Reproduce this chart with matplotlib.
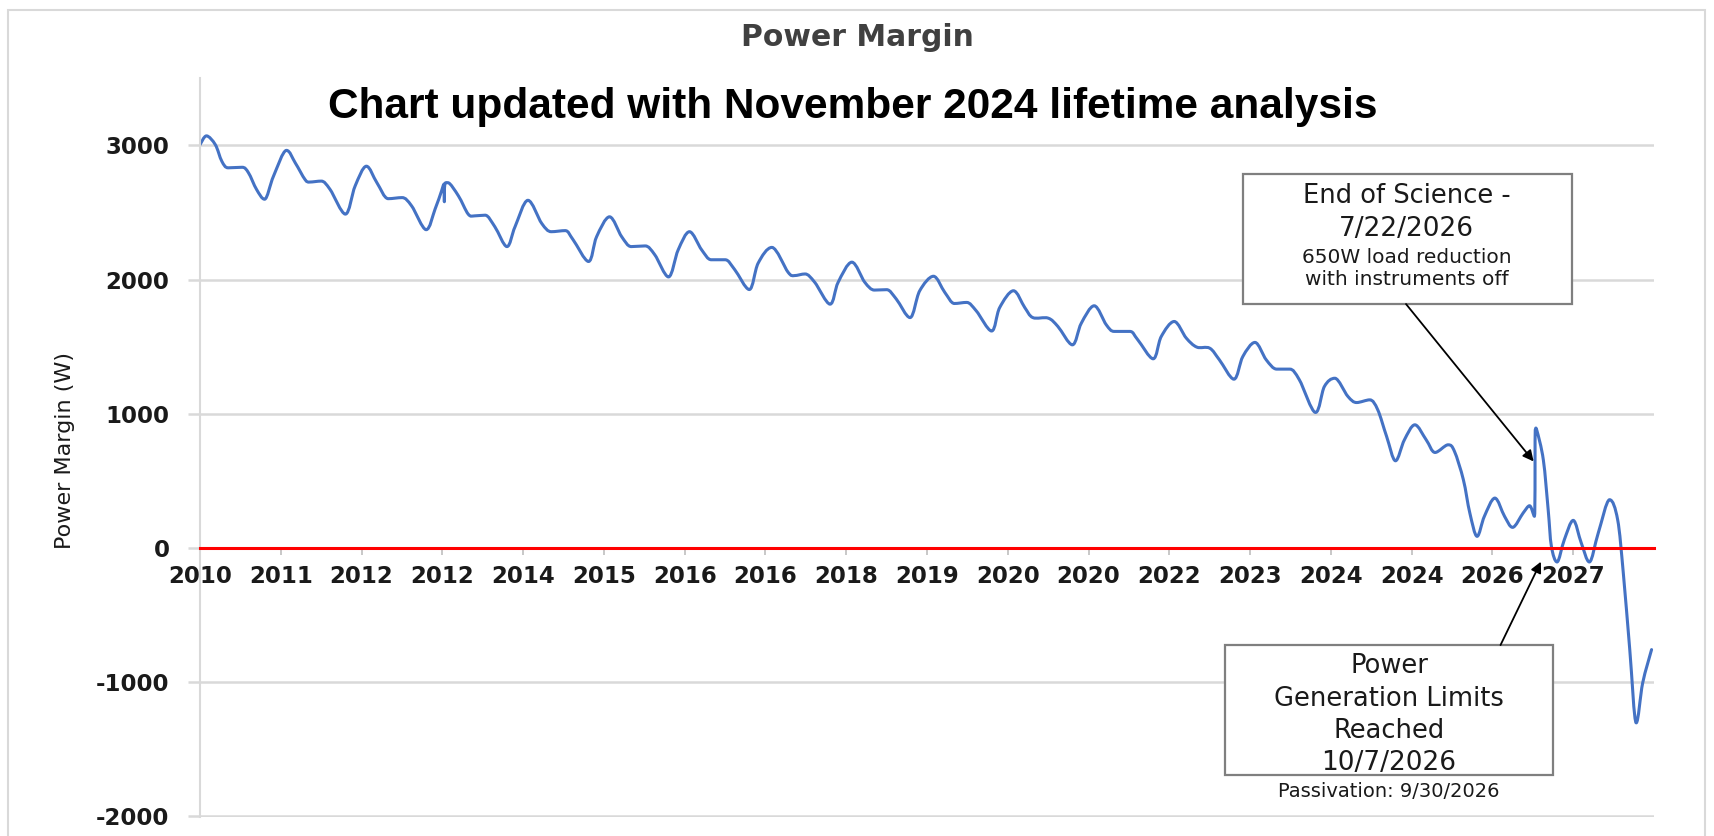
import matplotlib
matplotlib.use("Agg")
import matplotlib.pyplot as plt
from matplotlib.path import Path
from matplotlib.patches import PathPatch, Rectangle
import numpy as np

# ---------------- data ----------------
tick_labels = ['2010', '2011', '2012', '2012', '2014', '2015', '2016', '2016', '2018',
               '2019', '2020', '2020', '2022', '2023', '2024', '2024', '2026', '2027']
y_ticks = [-2000, -1000, 0, 1000, 2000, 3000]
y_tick_labels = ['-2000', '-1000', '0', '1000', '2000', '3000']

# position along the time axis, in label intervals (0 = first "2010" label)
time_pos = [0.00, 0.08, 0.19, 0.27, 0.35, 0.52, 0.60, 0.70, 0.80, 0.91,
            1.07, 1.18, 1.30, 1.36, 1.50, 1.61, 1.80, 1.92,
            2.06, 2.19, 2.33, 2.50, 2.62, 2.80, 2.91,
            2.99, 3.02, 3.025, 3.03, 3.07, 3.20, 3.32, 3.40, 3.53, 3.65, 3.80, 3.90,
            4.06, 4.23, 4.35, 4.52, 4.62, 4.81, 4.91,
            5.07, 5.22, 5.34, 5.51, 5.63, 5.80, 5.92,
            6.06, 6.21, 6.33, 6.50, 6.62, 6.80, 6.91,
            7.08, 7.28, 7.36, 7.49, 7.61, 7.80, 7.90,
            8.07, 8.23, 8.35, 8.50, 8.62, 8.79, 8.91,
            9.08, 9.22, 9.34, 9.49, 9.61, 9.80, 9.90,
            10.07, 10.21, 10.31, 10.50, 10.62, 10.80, 10.91,
            11.07, 11.22, 11.32, 11.51, 11.61, 11.80, 11.90,
            12.06, 12.21, 12.34, 12.50, 12.62, 12.80, 12.91,
            13.06, 13.20, 13.33, 13.49, 13.61, 13.81, 13.92,
            14.05, 14.21, 14.32, 14.48, 14.58, 14.69, 14.80, 14.91,
            15.04, 15.18, 15.29, 15.45, 15.53, 15.64, 15.72, 15.81, 15.90,
            16.03, 16.15, 16.25, 16.38, 16.46, 16.52, 16.53, 16.55, 16.63, 16.69, 16.73, 16.80, 16.89,
            17.00, 17.10, 17.20, 17.31, 17.45, 17.55, 17.62, 17.70, 17.78, 17.86, 17.97]
margin_w = [3005, 3071, 3005, 2882, 2833, 2837, 2796, 2672, 2599, 2771,
            2963, 2869, 2746, 2727, 2734, 2672, 2488, 2697,
            2845, 2722, 2603, 2611, 2549, 2372, 2525,
            2660, 2712, 2580, 2705, 2722, 2623, 2488, 2475, 2480, 2394, 2246, 2394,
            2591, 2419, 2357, 2365, 2296, 2135, 2320,
            2468, 2320, 2246, 2251, 2185, 2020, 2222,
            2357, 2222, 2148, 2148, 2074, 1926, 2123,
            2240, 2055, 2030, 2042, 1980, 1817, 1980,
            2130, 1980, 1922, 1925, 1855, 1717, 1917,
            2025, 1905, 1822, 1830, 1767, 1617, 1792,
            1917, 1792, 1717, 1713, 1651, 1514, 1675,
            1805, 1663, 1614, 1614, 1551, 1410, 1576,
            1688, 1564, 1497, 1489, 1402, 1258, 1427,
            1532, 1402, 1333, 1333, 1253, 1010, 1204,
            1265, 1130, 1084, 1104, 1030, 831, 650, 806,
            918, 806, 712, 769, 720, 509, 261, 87, 236,
            372, 236, 154, 261, 315, 236, 881, 876, 657, 285, 12, -104, 62,
            206, 37, -104, 112, 360, 211, -186, -757, -1303, -1005, -757]
assert len(time_pos) == len(margin_w)

# ---------------- figure ----------------
fig = plt.figure(figsize=(17.15, 8.36), dpi=100)
ax = fig.add_axes([0.11662, 0.02213, 0.84781, 0.88421])
ax.set_xlim(0, 18)
ax.set_ylim(-2008, 3500)

# smoothed line (like Excel's "smoothed line"), drawn through the data points
pts = np.column_stack([time_pos, margin_w]).astype(float)
n = len(pts)
tang = np.zeros_like(pts)
for i in range(n):
    a = pts[max(i - 1, 0)]
    b = pts[min(i + 1, n - 1)]
    tang[i] = (b - a) / 2.0
    if 0 < i < n - 1:
        y0, y1, y2 = pts[i - 1, 1], pts[i, 1], pts[i + 1, 1]
        if (y1 >= y0 and y1 >= y2) or (y1 <= y0 and y1 <= y2):
            tang[i, 1] = 0.0
verts = [pts[0]]
codes = [Path.MOVETO]
for i in range(n - 1):
    verts += [pts[i] + tang[i] / 3.0, pts[i + 1] - tang[i + 1] / 3.0, pts[i + 1]]
    codes += [Path.CURVE4] * 3
ax.add_patch(PathPatch(Path(verts, codes), fill=False, edgecolor='#4472C4',
                       lw=2.2, joinstyle='round', capstyle='round', zorder=2))

# axes styling
for s in ['top', 'right']:
    ax.spines[s].set_visible(False)
ax.spines['left'].set_color('#d9d9d9')
ax.spines['left'].set_linewidth(1.5)
ax.spines['bottom'].set_position(('data', 0))
ax.spines['bottom'].set_color('#ff0000')
ax.spines['bottom'].set_linewidth(2.2)
ax.spines['bottom'].set_zorder(3)

ax.set_xticks(range(len(tick_labels)))
ax.set_xticklabels(tick_labels, fontweight='bold')
ax.set_yticks(y_ticks)
ax.set_yticklabels(y_tick_labels, fontweight='bold')
ax.tick_params(axis='x', length=5, width=1.2, color='#bfbfbf', pad=7,
               labelsize=16.5, labelcolor='#1a1a1a')
ax.tick_params(axis='y', length=9, width=1.8, color='#d9d9d9', pad=13,
               labelsize=16.5, labelcolor='#1a1a1a')
ax.grid(axis='y', color='#d9d9d9', lw=1.8)
ax.set_axisbelow(True)

ax.set_ylabel('Power Margin (W)', fontsize=16, color='#1a1a1a',
              ha='center', va='center')
ax.yaxis.set_label_coords(-0.0928, 0.497)

# titles
fig.text(0.4997, 0.945, 'Power Margin', ha='center', va='baseline',
         fontsize=21.5, fontweight='bold', color='#404040')
fig.text(0.497, 0.8589, 'Chart updated with November 2024 lifetime analysis',
         ha='center', va='baseline', fontsize=30.5, fontweight='bold', color='black',
         family=['Liberation Sans', 'DejaVu Sans'])

# annotation boxes
box_kw = dict(facecolor='white', edgecolor='#7f7f7f', lw=1.6, zorder=5, clip_on=False)
ax.add_patch(Rectangle((12.91, 1818), 16.98 - 12.91, 2787 - 1818, **box_kw))
ax.add_patch(Rectangle((12.69, -1692), 16.745 - 12.69, -723 + 1692, **box_kw))

tkw = dict(ha='center', va='center', color='#1a1a1a', zorder=6)
ax.text(14.94, 2623, 'End of Science -', fontsize=18.5, **tkw)
ax.text(14.94, 2377, '7/22/2026', fontsize=19, **tkw)
ax.text(14.94, 2161, '650W load reduction', fontsize=14.5, **tkw)
ax.text(14.94, 2004, 'with instruments off', fontsize=14.5, **tkw)

ax.text(14.72, -879, 'Power', fontsize=18.5, **tkw)
ax.text(14.72, -1125, 'Generation Limits', fontsize=18.5, **tkw)
ax.text(14.72, -1364, 'Reached', fontsize=18.5, **tkw)
ax.text(14.72, -1602, '10/7/2026', fontsize=19, **tkw)
ax.text(14.72, -1811, 'Passivation: 9/30/2026', fontsize=14, **tkw)

akw = dict(arrowstyle='-|>', color='black', lw=1.3, mutation_scale=16,
           shrinkA=0, shrinkB=0)
ax.annotate('', xy=(16.51, 645), xytext=(14.93, 1818), arrowprops=akw, zorder=7)
ax.annotate('', xy=(16.60, -102), xytext=(16.10, -723), arrowprops=akw, zorder=7)

# outer chart border
fig.patches.append(Rectangle((8 / 1715, -0.02), 1697 / 1715, 1.014 - 5 / 836,
                             transform=fig.transFigure, fill=False,
                             edgecolor='#d9d9d9', lw=1.5))

fig.savefig('out.png', dpi=100)
